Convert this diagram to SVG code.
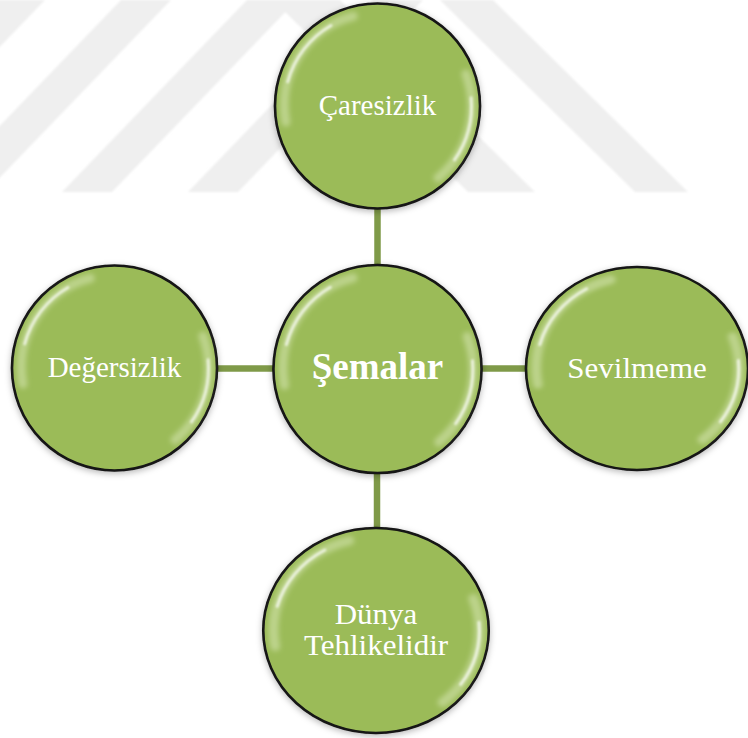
<svg xmlns="http://www.w3.org/2000/svg" xmlns:xlink="http://www.w3.org/1999/xlink" width="748" height="738" viewBox="0 0 748 738">
  <style>
    .stripe { fill: #efefef; }
    .conn { stroke: #7f9a48; stroke-width: 6.5; fill: none; }
    .lbl { font-family: "Liberation Serif", "Times New Roman", serif; font-size: 29px; fill: #ffffff; text-anchor: middle; }
    .title { font-family: "Liberation Serif", "Times New Roman", serif; font-size: 37px; font-weight: bold; fill: #ffffff; text-anchor: middle; }
    .disc { fill: #9bbb59; stroke: #141414; stroke-width: 2.6; }
    .hl-wide { fill: none; stroke: #eef8d6; stroke-width: 9; stroke-opacity: 0.4; stroke-linecap: round; }
    .hl-core { fill: none; stroke: #ffffff; stroke-width: 3; stroke-opacity: 0.7; stroke-linecap: round; }
  </style>
  <defs>
    <filter id="shadow" x="-20%" y="-20%" width="140%" height="140%">
      <feDropShadow dx="0" dy="2" stdDeviation="3" flood-color="#000000" flood-opacity="0.28"/>
    </filter>
    <filter id="soft" x="-20%" y="-20%" width="140%" height="140%">
      <feGaussianBlur stdDeviation="2.4"/>
    </filter>
    <filter id="soft2" x="-20%" y="-20%" width="140%" height="140%">
      <feGaussianBlur stdDeviation="1.2"/>
    </filter>
    <filter id="wm" x="-5%" y="-5%" width="110%" height="110%">
      <feGaussianBlur stdDeviation="1"/>
    </filter>
    <g id="bubble">
      <circle class="disc" r="102.5" filter="url(#shadow)" vector-effect="non-scaling-stroke"/>
      <g filter="url(#soft)">
        <path class="hl-wide" d="M -91.6 16.1 A 92 92 0 0 1 -24.1 -89.8"/>
        <path class="hl-wide" d="M 88.3 -32.1 A 93 93 0 0 1 60.4 72.0"/>
      </g>
      <g filter="url(#soft2)">
        <path class="hl-core" d="M -89.8 -24.1 A 93 93 0 0 1 -46.5 -80.5"/>
        <path class="hl-core" d="M 93.6 -8.2 A 94 94 0 0 1 77.0 53.9"/>
      </g>
    </g>
  </defs>

  <rect x="0" y="0" width="748" height="738" fill="#ffffff"/>

  <g id="watermark" filter="url(#wm)">
    <polygon class="stripe" points="-190,192 -140,192 45,0 -5,0"/>
    <polygon class="stripe" points="-64,192 -14,192 171,0 121,0"/>
    <polygon class="stripe" points="62,192 112,192 297,0 247,0"/>
    <polygon class="stripe" points="188,192 238,192 423,0 373,0"/>
    <polygon class="stripe" points="468,192 535,192 340,0 273,0"/>
    <polygon class="stripe" points="635,192 688,192 493,0 440,0"/>
  </g>

  <g id="connectors">
    <line class="conn" x1="377.5" y1="200" x2="377.5" y2="272"/>
    <line class="conn" x1="210" y1="368.5" x2="280" y2="368.5"/>
    <line class="conn" x1="475" y1="368.5" x2="532" y2="368.5"/>
    <line class="conn" x1="377" y1="466" x2="377" y2="535"/>
  </g>

  <g id="node-caresizlik" transform="translate(377.5,106)">
    <use xlink:href="#bubble" href="#bubble"/>
    <text class="lbl" x="0" y="9">Çaresizlik</text>
  </g>

  <g id="node-degersizlik" transform="translate(114.5,368)">
    <use xlink:href="#bubble" href="#bubble"/>
    <text class="lbl" x="0" y="9">Değersizlik</text>
  </g>

  <g id="node-semalar" transform="translate(377.5,369)">
    <use xlink:href="#bubble" href="#bubble" transform="scale(1.015)"/>
    <text class="title" x="0" y="10">Şemalar</text>
  </g>

  <g id="node-sevilmeme" transform="translate(637,368.5)">
    <use xlink:href="#bubble" href="#bubble" transform="scale(1.083,0.99)"/>
    <text class="lbl" x="0" y="9.5" transform="scale(1.07,1)">Sevilmeme</text>
  </g>

  <g id="node-dunya" transform="translate(376,630.5)">
    <use xlink:href="#bubble" href="#bubble" transform="scale(1.1,1)"/>
    <text class="lbl" transform="scale(1.07,1)"><tspan x="0" y="-7">Dünya</tspan><tspan x="0" y="24.5">Tehlikelidir</tspan></text>
  </g>
</svg>
